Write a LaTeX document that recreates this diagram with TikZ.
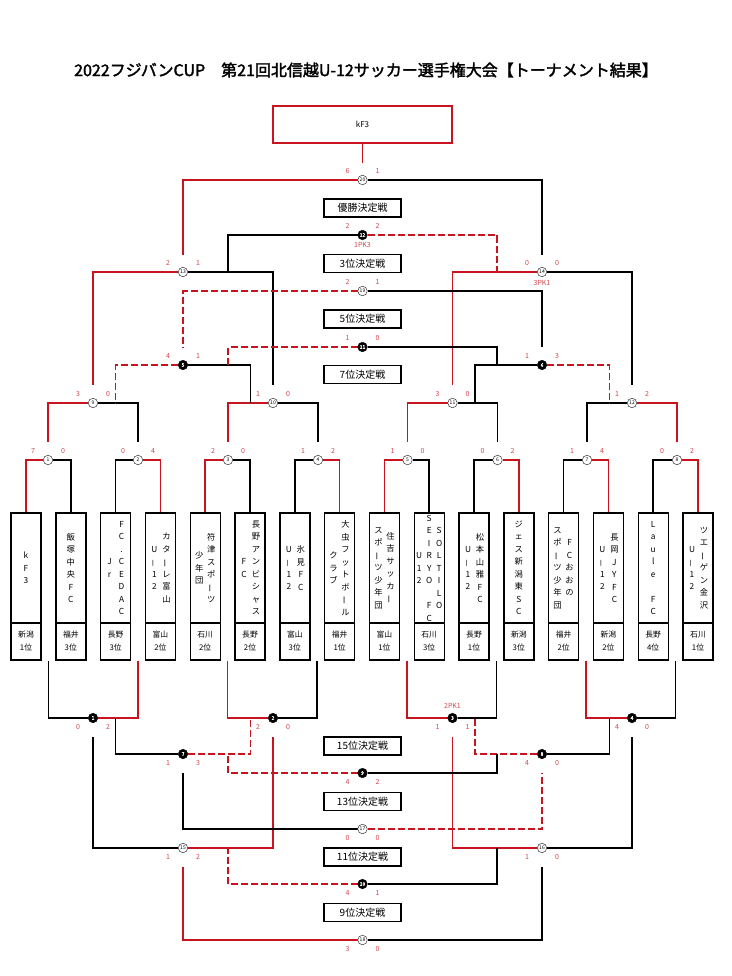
\documentclass[tikz,border=0pt]{standalone}
\usepackage{fontspec}
\usepackage{graphicx}
\setmainfont{Noto Sans CJK JP}[AutoFakeBold=2]
\usetikzlibrary{calc}
\definecolor{bred}{RGB}{200,20,30}
\definecolor{sred}{RGB}{215,70,80}
\pgfdeclarelayer{bg}
\pgfsetlayers{bg,main}
\newcommand\vb{\rotatebox[origin=c]{90}{ー}}
\newcommand\vh{\rotatebox[origin=c]{90}{－}}
\newcommand\scu[3]{\node[sc] (#1sl) at ($(#1)+(-15,-9)$) {#2};\node[sc] (#1sr) at ($(#1)+(15,-9)$) {#3};}
\newcommand\scd[3]{\node[sc] (#1sl) at ($(#1)+(-15,9)$) {#2};\node[sc] (#1sr) at ($(#1)+(15,9)$) {#3};}
\begin{document}
\begin{tikzpicture}[x=1pt,y=-1pt,
  wm/.style={circle,draw=black!80,line width=0.5pt,fill=white,inner sep=0pt,minimum size=9.5pt,font=\fontsize{5}{5}\selectfont},
  bm/.style={circle,draw=black,line width=0.5pt,fill=black,text=white,inner sep=0pt,minimum size=9.5pt,font=\fontsize{5}{5}\selectfont\bfseries},
  win/.style={draw=bred,line width=1.5pt},
  windash/.style={win,dash pattern=on 7pt off 3pt},
  lose/.style={draw=black,line width=1.5pt},
  sc/.style={text=sred,font=\fontsize{7}{8}\selectfont,inner sep=0pt},
  namebox/.style={draw,line width=1.4pt,minimum width=30pt,minimum height=110pt,inner sep=0pt},
  prefbox/.style={draw,line width=1.4pt,minimum width=30pt,minimum height=37pt,inner sep=0pt,align=center,font=\fontsize{7.8}{13}\selectfont},
  col/.style={align=center,inner sep=0pt,font=\fontsize{8.3}{12.5}\selectfont},
  lblbox/.style={draw,line width=1.4pt,minimum width=77pt,minimum height=18pt,inner sep=0pt,font=\fontsize{10}{11}\selectfont},
]
\useasboundingbox (0,0) rectangle (731,976);

% title and champion
\node[font=\fontsize{16}{17}\selectfont\bfseries] (title) at (366,70) {2022フジバンCUP　第21回北信越U-12サッカー選手権大会【トーナメント結果】};
\node[draw=bred,line width=2pt,minimum width=179pt,minimum height=37pt,font=\fontsize{8}{9}\selectfont] (champ) at (362.5,124.5) {kF3};

% placement labels
\node[lblbox] (l1) at (362.5,208) {優勝決定戦};
\node[lblbox] (l3) at (362.5,263.5) {3位決定戦};
\node[lblbox] (l5) at (362.5,319) {5位決定戦};
\node[lblbox] (l7) at (362.5,374.5) {7位決定戦};
\node[lblbox] (l15) at (362.5,746) {15位決定戦};
\node[lblbox] (l13) at (362.5,801.5) {13位決定戦};
\node[lblbox] (l11) at (362.5,857) {11位決定戦};
\node[lblbox] (l9) at (362.5,912.5) {9位決定戦};

% team boxes
\node[namebox] (t1) at (26,568) {};
\node[prefbox] (p1) at (26,641.5) {新潟\\1位};
\node[col] (t1a) at (t1) {k\\F\\3};
\node[namebox] (t2) at (70.8,568) {};
\node[prefbox] (p2) at (70.8,641.5) {福井\\3位};
\node[col] (t2a) at (t2) {飯\\塚\\中\\央\\F\\C};
\node[namebox] (t3) at (115.6,568) {};
\node[prefbox] (p3) at (115.6,641.5) {長野\\3位};
\node[col] (t3a) at ($(t3)+(6,0)$) {F\\C\\.\\C\\E\\D\\A\\C};
\node[col] (t3b) at ($(t3)+(-6,0)$) {J\\r};
\node[namebox] (t4) at (160.4,568) {};
\node[prefbox] (p4) at (160.4,641.5) {富山\\2位};
\node[col] (t4a) at ($(t4)+(6,0)$) {カ\\タ\\\vb\\レ\\富\\山};
\node[col] (t4b) at ($(t4)+(-6,0)$) {U\\\vh\\1\\2};
\node[namebox] (t5) at (205.2,568) {};
\node[prefbox] (p5) at (205.2,641.5) {石川\\2位};
\node[col] (t5a) at ($(t5)+(6,0)$) {符\\津\\ス\\ポ\\\vb\\ツ};
\node[col] (t5b) at ($(t5)+(-6,0)$) {少\\年\\団};
\node[namebox] (t6) at (250,568) {};
\node[prefbox] (p6) at (250,641.5) {長野\\2位};
\node[col] (t6a) at ($(t6)+(6,0)$) {長\\野\\ア\\ン\\ビ\\シ\\ャ\\ス};
\node[col] (t6b) at ($(t6)+(-6,0)$) {F\\C};
\node[namebox] (t7) at (294.8,568) {};
\node[prefbox] (p7) at (294.8,641.5) {富山\\3位};
\node[col] (t7a) at ($(t7)+(6,0)$) {氷\\見\\F\\C};
\node[col] (t7b) at ($(t7)+(-6,0)$) {U\\\vh\\1\\2};
\node[namebox] (t8) at (339.6,568) {};
\node[prefbox] (p8) at (339.6,641.5) {福井\\1位};
\node[col] (t8a) at ($(t8)+(6,0)$) {大\\虫\\フ\\ッ\\ト\\ボ\\\vb\\ル};
\node[col] (t8b) at ($(t8)+(-6,0)$) {ク\\ラ\\ブ};
\node[namebox] (t9) at (384.4,568) {};
\node[prefbox] (p9) at (384.4,641.5) {富山\\1位};
\node[col] (t9a) at ($(t9)+(6,0)$) {住\\吉\\サ\\ッ\\カ\\\vb};
\node[col] (t9b) at ($(t9)+(-6,0)$) {ス\\ポ\\\vb\\ツ\\少\\年\\団};
\node[namebox] (t10) at (429.2,568) {};
\node[prefbox] (p10) at (429.2,641.5) {石川\\3位};
\node[col] (t10a) at ($(t10)+(10,0)$) {S\\O\\L\\T\\I\\L\\O};
\node[col] (t10b) at (t10) {S\\E\\I\\R\\Y\\O\\\mbox{}\\F\\C};
\node[col] (t10c) at ($(t10)+(-10,0)$) {U\\1\\2};
\node[namebox] (t11) at (474,568) {};
\node[prefbox] (p11) at (474,641.5) {長野\\1位};
\node[col] (t11a) at ($(t11)+(6,0)$) {松\\本\\山\\雅\\F\\C};
\node[col] (t11b) at ($(t11)+(-6,0)$) {U\\\vh\\1\\2};
\node[namebox] (t12) at (518.8,568) {};
\node[prefbox] (p12) at (518.8,641.5) {新潟\\3位};
\node[col] (t12a) at (t12) {ジ\\ェ\\ス\\新\\潟\\東\\S\\C};
\node[namebox] (t13) at (563.6,568) {};
\node[prefbox] (p13) at (563.6,641.5) {福井\\2位};
\node[col] (t13a) at ($(t13)+(6,0)$) {F\\C\\お\\お\\の};
\node[col] (t13b) at ($(t13)+(-6,0)$) {ス\\ポ\\\vb\\ツ\\少\\年\\団};
\node[namebox] (t14) at (608.4,568) {};
\node[prefbox] (p14) at (608.4,641.5) {新潟\\2位};
\node[col] (t14a) at ($(t14)+(6,0)$) {長\\岡\\J\\Y\\F\\C};
\node[col] (t14b) at ($(t14)+(-6,0)$) {U\\\vh\\1\\2};
\node[namebox] (t15) at (653.2,568) {};
\node[prefbox] (p15) at (653.2,641.5) {長野\\4位};
\node[col] (t15a) at (t15) {L\\a\\u\\l\\e\\\mbox{}\\F\\C};
\node[namebox] (t16) at (698,568) {};
\node[prefbox] (p16) at (698,641.5) {石川\\1位};
\node[col] (t16a) at ($(t16)+(6,0)$) {ツ\\エ\\\vb\\ゲ\\ン\\金\\沢};
\node[col] (t16b) at ($(t16)+(-6,0)$) {U\\\vh\\1\\2};

% match nodes, upper
\node[wm] (m1) at (48,460) {1};
\node[wm] (m2) at (138,460) {2};
\node[wm] (m3) at (228,460) {3};
\node[wm] (m4) at (318,460) {4};
\node[wm] (m5) at (407.5,460) {5};
\node[wm] (m6) at (497.5,460) {6};
\node[wm] (m7) at (587,460) {7};
\node[wm] (m8) at (677,460) {8};
\node[wm] (m9) at (93,403) {9};
\node[wm] (m10) at (273,403) {10};
\node[wm] (m11) at (452.5,403) {11};
\node[wm] (m12) at (632,403) {12};
\node[wm] (m13) at (183,272) {13};
\node[wm] (m14) at (542,272) {14};
\node[wm] (m20) at (362.5,180) {20};
\node[bm] (b5) at (183,365) {5};
\node[bm] (b6) at (542,365) {6};
\node[bm] (b12) at (362.5,235) {12};
\node[wm] (m19) at (362.5,291) {19};
\node[bm] (b11) at (362.5,347) {11};
% match nodes, lower
\node[bm] (b1) at (93,718) {1};
\node[bm] (b2) at (273,718) {2};
\node[bm] (b3) at (452.5,718) {3};
\node[bm] (b4) at (632,718) {4};
\node[bm] (b7) at (183,754) {7};
\node[bm] (b8) at (542,754) {8};
\node[wm] (m15) at (183,848) {15};
\node[wm] (m16) at (542,848) {16};
\node[bm] (b9) at (362.5,773) {9};
\node[wm] (m17) at (362.5,829) {17};
\node[bm] (b10) at (362.5,884) {10};
\node[wm] (m18) at (362.5,940) {18};

% scores
\scu{m1}{7}{0} \scu{m2}{0}{4} \scu{m3}{2}{0} \scu{m4}{1}{2}
\scu{m5}{1}{0} \scu{m6}{0}{2} \scu{m7}{1}{4} \scu{m8}{0}{2}
\scu{m9}{3}{0} \scu{m10}{1}{0} \scu{m11}{3}{0} \scu{m12}{1}{2}
\scu{m13}{2}{1} \scu{m14}{0}{0} \scu{m20}{6}{1}
\scu{b5}{4}{1} \scu{b6}{1}{3} \scu{b12}{2}{2} \scu{m19}{2}{1} \scu{b11}{1}{0}
\scd{b1}{0}{2} \scd{b2}{2}{0} \scd{b3}{1}{1} \scd{b4}{4}{0}
\scd{b7}{1}{3} \scd{b8}{4}{0} \scd{m15}{1}{2} \scd{m16}{1}{0}
\scd{b9}{4}{2} \scd{m17}{0}{0} \scd{b10}{4}{1} \scd{m18}{3}{0}
\node[sc] (pk12) at ($(b12)+(0,10)$) {1PK3};
\node[sc] (pk14) at ($(m14)+(0,11)$) {3PK1};
\node[sc] (pkb3) at ($(b3)+(0,-12)$) {2PK1};

\begin{pgfonlayer}{bg}
\fill[white] (0,0) rectangle (731,976);
% champion
\draw[win] (champ.south) -- ($(m20)+(0,-17)$);
% first round
\draw[win] (m1) -| (t1.north);  \draw[lose] (m1) -| (t2.north);
\draw[lose] (m2) -| (t3.north); \draw[win] (m2) -| (t4.north);
\draw[win] (m3) -| (t5.north);  \draw[lose] (m3) -| (t6.north);
\draw[lose] (m4) -| (t7.north); \draw[win] (m4) -| (t8.north);
\draw[win] (m5) -| (t9.north);  \draw[lose] (m5) -| (t10.north);
\draw[lose] (m6) -| (t11.north); \draw[win] (m6) -| (t12.north);
\draw[lose] (m7) -| (t13.north); \draw[win] (m7) -| (t14.north);
\draw[lose] (m8) -| (t15.north); \draw[win] (m8) -| (t16.north);
% second round
\draw[win] (m9) -| ($(m1)+(0,-18)$);  \draw[lose] (m9) -| ($(m2)+(0,-18)$);
\draw[win] (m10) -| ($(m3)+(0,-18)$); \draw[lose] (m10) -| ($(m4)+(0,-18)$);
\draw[win] (m11) -| ($(m5)+(0,-18)$); \draw[lose] (m11) -| ($(m6)+(0,-18)$);
\draw[lose] (m12) -| ($(m7)+(0,-18)$); \draw[win] (m12) -| ($(m8)+(0,-18)$);
% semis and final
\draw[win] (m13) -| ($(m9)+(0,-18)$);  \draw[lose] (m13) -| ($(m10)+(0,-18)$);
\draw[win] (m14) -| ($(m11)+(0,-18)$); \draw[lose] (m14) -| ($(m12)+(0,-18)$);
\draw[win] (m20) -| ($(m13)+(0,-17)$); \draw[lose] (m20) -| ($(m14)+(0,-17)$);
% upper placement
\draw[windash] (b5) -| ($(m9)+(22.5,0)$);  \draw[lose] (b5) -| ($(m10)+(-22.5,0)$);
\draw[lose] (b6) -| ($(m11)+(22.5,0)$);    \draw[windash] (b6) -| ($(m12)+(-22.5,0)$);
\draw[lose] (b12) -| ($(m13)+(45,0)$);     \draw[windash] (b12) -| ($(m14)+(-45,0)$);
\draw[windash] (m19) -| ($(b5)+(0,-18)$);  \draw[lose] (m19) -| ($(b6)+(0,-18)$);
\draw[windash] (b11) -| ($(b5)+(45,0)$);   \draw[lose] (b11) -| ($(b6)+(-45,0)$);
% lower first round
\draw[lose] (b1) -| ($(p1.south)!0.5!(p2.south)$);  \draw[win] (b1) -| ($(p3.south)!0.5!(p4.south)$);
\draw[win] (b2) -| ($(p5.south)!0.5!(p6.south)$);   \draw[lose] (b2) -| ($(p7.south)!0.5!(p8.south)$);
\draw[win] (b3) -| ($(p9.south)!0.5!(p10.south)$);  \draw[lose] (b3) -| ($(p11.south)!0.5!(p12.south)$);
\draw[win] (b4) -| ($(p13.south)!0.5!(p14.south)$); \draw[lose] (b4) -| ($(p15.south)!0.5!(p16.south)$);
% lower later rounds
\draw[lose] (b7) -| ($(b1)+(22.5,0)$);     \draw[windash] (b7) -| ($(b2)+(-22.5,0)$);
\draw[windash] (b8) -| ($(b3)+(22.5,0)$);  \draw[lose] (b8) -| ($(b4)+(-22.5,0)$);
\draw[lose] (m15) -| ($(b1)+(0,19)$);      \draw[win] (m15) -| ($(b2)+(0,19)$);
\draw[win] (m16) -| ($(b3)+(0,19)$);       \draw[lose] (m16) -| ($(b4)+(0,19)$);
\draw[windash] (b9) -| ($(b7)+(45,0)$);    \draw[lose] (b9) -| ($(b8)+(-45,0)$);
\draw[lose] (m17) -| ($(b7)+(0,19)$);      \draw[windash] (m17) -| ($(b8)+(0,19)$);
\draw[windash] (b10) -| ($(m15)+(45,0)$);  \draw[lose] (b10) -| ($(m16)+(-45,0)$);
\draw[win] (m18) -| ($(m15)+(0,19)$);      \draw[lose] (m18) -| ($(m16)+(0,19)$);
\end{pgfonlayer}
\end{tikzpicture}
\end{document}
